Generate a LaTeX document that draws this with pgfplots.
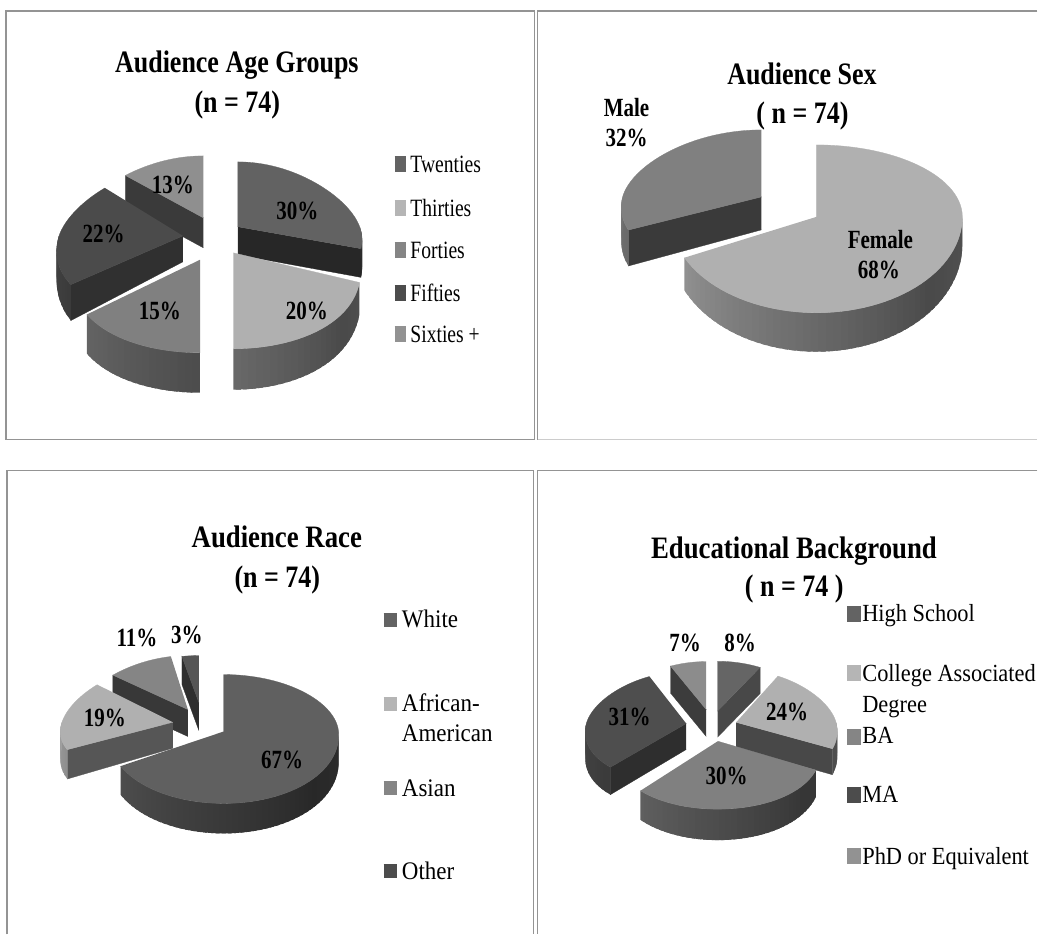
\documentclass[border=0pt]{standalone}
\usepackage{pgfplots}
\usepackage{fontspec}
\setmainfont{Liberation Serif}
\pgfplotsset{compat=1.18}

% Geometry of one exploded slice: apex, half axes (back and front differ
% because of the perspective) and wall height at the side and at the front.
\newcommand{\slicegeom}[7]{%
  \def\Ax{#1}\def\Ay{#2}\def\Rx{#3}\def\Rb{#4}\def\Rf{#5}\def\Ds{#6}\def\Df{#7}}
% Widening of the horizontal half axis towards the viewer.
\newcommand{\perspective}[1]{\def\Pk{#1}}

% Point on the rim at a clockwise angle from twelve o'clock.
\newcommand{\rimpoint}[1]{%
  \pgfmathsetmacro\wcos{cos(#1)}%
  \pgfmathsetmacro\wsin{sin(#1)}%
  \pgfmathsetmacro\px{\Ax+\Rx*(1-\Pk*\wcos)*\wsin}%
  \pgfmathsetmacro\py{\Ay-(\wcos>0?\Rb:\Rf)*\wcos}%
  \pgfmathsetmacro\wall{\Ds+(\Df-\Ds)*max(-\wcos,0)}%
  \pgfmathsetmacro\qy{\py+\wall}}

% Flat polygon through pgfplots, grey level 0..255.
\newcommand{\polyplot}[2]{%
  \pgfmathsetmacro\K{100-(#1)/2.55}%
  \edef\temp{\noexpand\addplot[fill=black!\K,draw=black!\K,line width=0.3pt,forget plot] coordinates {#2};}%
  \temp}
% The same without an outline, for the overlapping wall strips.
\newcommand{\stripplot}[2]{%
  \pgfmathsetmacro\K{100-(#1)/2.55}%
  \edef\temp{\noexpand\addplot[fill=black!\K,draw=none,forget plot] coordinates {#2};}%
  \temp}

% One slice: start share in percent, share in percent, top grey, cut-face grey.
\newcommand{\slice}[4]{%
  \pgfmathsetmacro\Ta{3.6*(#1)}%
  \pgfmathsetmacro\Tb{3.6*((#1)+(#2))}%
  % cut face at the start of the slice
  \pgfmathparse{sin(\Ta)<-0.001?1:0}\ifnum\pgfmathresult>0
    \rimpoint{\Ta}%
    \pgfmathsetmacro\ab{\Ay+\Ds}%
    \polyplot{#4}{(\Ax,\Ay)(\px,\py)(\px,\qy)(\Ax,\ab)}%
  \fi
  % cut face at the end of the slice
  \pgfmathparse{sin(\Tb)>0.001?1:0}\ifnum\pgfmathresult>0
    \rimpoint{\Tb}%
    \pgfmathsetmacro\ab{\Ay+\Ds}%
    \polyplot{#4}{(\Ax,\Ay)(\px,\py)(\px,\qy)(\Ax,\ab)}%
  \fi
  % curved wall, shaded strip by strip; each strip overlaps the next one
  \pgfmathsetmacro\Fa{max(\Ta,90)}%
  \pgfmathsetmacro\Fb{min(\Tb,270)}%
  \pgfmathparse{\Fb>\Fa+0.01?1:0}\ifnum\pgfmathresult>0
    \pgfmathtruncatemacro\Ns{ceil((\Fb-\Fa)/3)}%
    \pgfmathsetmacro\Fs{(\Fb-\Fa)/\Ns}%
    \foreach \i in {1,...,\Ns}{%
      \pgfmathsetmacro\tA{\Fa+\Fs*(\i-1)}%
      \pgfmathsetmacro\tB{\Fa+\Fs*\i}%
      \pgfmathsetmacro\tC{min(\tB+2,\Fb)}%
      \rimpoint{\tA}\let\xa\px\let\ya\py\let\za\qy
      \rimpoint{\tC}%
      \pgfmathsetmacro\mid{(\tA+\tB)/2}%
      \pgfmathsetmacro\shade{(#3)*(\mid<130?0.42+(130-\mid)*0.001:0.42+(\mid-130)*0.0035)}%
      \stripplot{\shade}{(\xa,\ya)(\px,\py)(\px,\qy)(\xa,\za)}%
    }%
  \fi
  % top surface
  \xdef\coords{(\Ax,\Ay)}%
  \pgfmathtruncatemacro\Nt{ceil((\Tb-\Ta)/3)}%
  \pgfmathsetmacro\Ts{(\Tb-\Ta)/\Nt}%
  \foreach \i in {0,...,\Nt}{%
    \pgfmathsetmacro\tA{\Ta+\Ts*\i}%
    \rimpoint{\tA}%
    \xdef\coords{\coords(\px,\py)}%
  }%
  \polyplot{#3}{\coords}}

% Legend swatch: centre, width, height, grey.
\newcommand{\swatch}[5]{%
  \pgfmathsetmacro\sa{#1-(#3)/2}\pgfmathsetmacro\sb{#1+(#3)/2}%
  \pgfmathsetmacro\sc{#2-(#4)/2}\pgfmathsetmacro\sd{#2+(#4)/2}%
  \polyplot{#5}{(\sa,\sc)(\sb,\sc)(\sb,\sd)(\sa,\sd)}}

% Text helpers: x, y of the baseline, text.
\newcommand{\headline}[4][1]{\node[anchor=base,inner sep=0pt] at (axis cs:#2,#3)
  {\fontsize{26}{26}\bfseries\selectfont\scalebox{#1}[1.2]{#4}};}
\newcommand{\valuelab}[3]{\node[anchor=base,inner sep=0pt] at (axis cs:#1,#2)
  {\fontsize{21}{21}\bfseries\selectfont\scalebox{1}[1.25]{#3}};}
\newcommand{\legtext}[5]{\node[anchor=base west,inner sep=0pt] at (axis cs:#1,#2)
  {\fontsize{#3}{#3}\selectfont\scalebox{1}[#4]{#5}};}

\definecolor{framegrey}{gray}{0.58}

\begin{document}
\begin{tikzpicture}
\begin{axis}[
  width=1038pt,height=935pt,scale only axis,
  xmin=0,xmax=1038,ymin=0,ymax=935,y dir=reverse,
  axis line style={draw=none},xtick=\empty,ytick=\empty,clip=false]

% panel frames
\addplot[framegrey,line width=1.4pt,forget plot] coordinates {(6,440)(6,11)(535,11)(535,440)(6,440)};
\addplot[framegrey,line width=1.4pt,forget plot] coordinates {(1038,11)(538,11)(538,440)};
\addplot[black!20,line width=1pt,forget plot] coordinates {(538,440)(1038,440)};
\addplot[framegrey,line width=1.4pt,forget plot] coordinates {(7,935)(7,471)(534,471)(534,935)};
\addplot[framegrey,line width=1.4pt,forget plot] coordinates {(1038,471)(538,471)(538,935)};

% Audience Age Groups
\perspective{0.2}
\slicegeom{203.5}{218}{124}{62}{62}{30}{30}\slice{87}{13}{143}{58}
\slicegeom{238}{227}{122}{65}{71}{28}{30}\slice{0}{30}{98}{39}
\slicegeom{183}{236}{124}{70}{83}{26}{43}\slice{65}{22}{75}{48}
\slicegeom{200}{260}{125}{70}{93}{38}{40}\slice{50}{15}{128}{60}
\slicegeom{233.5}{253}{125}{70}{96}{28}{41}\slice{30}{20}{176}{60}

\headline{237}{73}{Audience Age Groups}
\headline{237.5}{113}{(n = 74)}
\valuelab{297.5}{220}{30\%}
\valuelab{307}{320}{20\%}
\valuelab{160}{320}{15\%}
\valuelab{103.6}{243}{22\%}
\valuelab{173}{194}{13\%}
\swatch{400}{164}{10}{15}{99}
\swatch{400}{208}{10}{15}{181}
\swatch{400}{250}{10}{15}{133}
\swatch{400}{293}{10}{15}{76}
\swatch{400}{334}{10}{15}{146}
\legtext{410.5}{173}{19.6}{1.27}{Twenties}
\legtext{410.5}{216.7}{19.6}{1.27}{Thirties}
\legtext{410.5}{259}{19.6}{1.27}{Forties}
\legtext{410.5}{301.7}{19.6}{1.27}{Fifties}
\legtext{410.5}{343}{19.6}{1.27}{Sixties +}

% Audience Sex
\perspective{0.14}
\slicegeom{762}{197}{139}{67}{78}{33}{40}\slice{68}{32}{128}{58}
\perspective{0}
\slicegeom{817}{217}{146}{72}{96}{28}{39}\slice{0}{68}{176}{60}

\headline{802.5}{85}{Audience Sex}
\headline{803}{124}{( n = 74)}
\valuelab{627}{116.7}{Male}
\valuelab{627}{146.7}{32\%}
\valuelab{881}{249}{Female}
\valuelab{879.5}{279}{68\%}

% Audience Race
\perspective{0.18}
\slicegeom{199}{703}{110}{47}{47}{28}{28}\slice{97}{3}{85}{46}
\slicegeom{188}{710}{110}{54}{54}{27}{27}\slice{86}{11}{133}{56}
\slicegeom{173}{722.7}{111}{59}{57}{26}{33}\slice{67}{19}{176}{86}
\perspective{0.05}
\slicegeom{223.8}{732}{115}{57}{72}{27}{30}\slice{0}{67}{96}{60}

\headline[1.03]{277}{547.7}{Audience Race}
\headline{277.5}{588}{(n = 74)}
\valuelab{137}{646.7}{11\%}
\valuelab{187}{644}{3\%}
\valuelab{105}{726.7}{19\%}
\valuelab{282.4}{769}{67\%}
\swatch{390}{620}{12}{13}{99}
\swatch{390}{704}{12}{13}{181}
\swatch{390}{788}{12}{13}{133}
\swatch{390}{871.7}{12}{13}{76}
\legtext{402}{628}{23}{1.1}{White}
\legtext{402}{711.7}{23}{1.1}{African-}
\legtext{402}{742}{23}{1.1}{American}
\legtext{402}{796.7}{23}{1.1}{Asian}
\legtext{402}{880}{23}{1.1}{Other}

% Educational Background
\perspective{0.15}
\slicegeom{706.7}{710}{97}{48}{48}{27}{27}\slice{93}{7}{140}{60}
\slicegeom{718}{711.7}{102}{50}{50}{26}{26}\slice{0}{8}{101}{72}
\slicegeom{686.7}{724}{100}{52}{60}{26}{28}\slice{62}{31}{78}{46}
\slicegeom{736.7}{723}{100}{53}{62}{25}{27}\slice{8}{24}{176}{72}
\slicegeom{718.3}{741.7}{102}{60}{68}{24}{31}\slice{32}{30}{128}{60}

\headline[1.03]{794.5}{559}{Educational Background}
\headline{794.7}{596.7}{( n = 74 )}
\valuelab{685.5}{651.7}{7\%}
\valuelab{740.5}{651.7}{8\%}
\valuelab{787.7}{721}{24\%}
\valuelab{630}{725.7}{31\%}
\valuelab{727}{785}{30\%}
\swatch{854}{614.3}{13}{15}{99}
\swatch{854}{673}{13}{15}{181}
\swatch{854}{736.7}{13}{15}{133}
\swatch{854}{795}{13}{15}{76}
\swatch{854}{856.7}{13}{15}{146}
\legtext{862.7}{621.7}{22.4}{1.1}{High School}
\legtext{862.7}{681.7}{22.4}{1.1}{College Associated}
\legtext{862.7}{713}{22.4}{1.1}{Degree}
\legtext{862.7}{744.3}{22.4}{1.1}{BA}
\legtext{862.7}{803}{22.4}{1.1}{MA}
\legtext{862.7}{865}{22.4}{1.1}{PhD or Equivalent}

\end{axis}
\end{tikzpicture}
\end{document}
